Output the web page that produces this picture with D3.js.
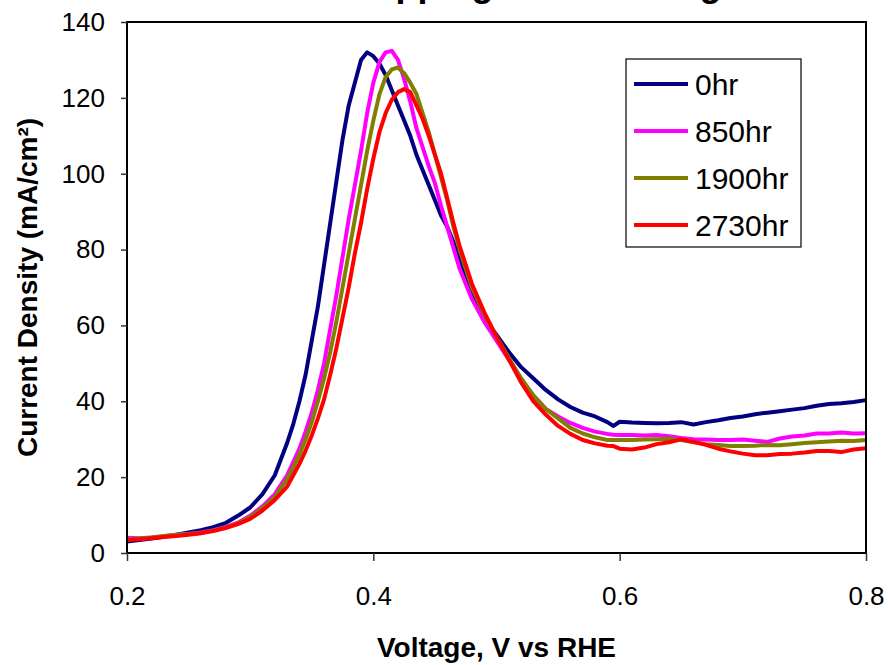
<!DOCTYPE html>
<html><head><meta charset="utf-8">
<script src="https://cdn.jsdelivr.net/npm/d3@7"></script>
<style>body{margin:0;background:#fff}svg{display:block}</style>
</head><body>
<svg id="c" width="888" height="665"></svg>
<script>
const voltage = [0.20,0.21,0.22,0.23,0.24,0.25,0.26,0.27,0.28,0.29,0.30,0.31,0.32,0.33,
0.335,0.34,0.345,0.35,0.355,0.36,0.365,0.37,0.375,0.38,0.385,0.39,0.395,0.40,0.405,0.41,0.415,0.42,0.425,0.43,0.435,0.44,0.445,0.45,0.455,0.46,0.465,0.47,
0.48,0.49,0.50,0.51,0.52,0.53,0.54,0.55,0.56,0.57,0.58,0.59,0.595,
0.60,0.61,0.62,0.63,0.64,0.65,0.66,0.67,0.68,0.69,0.70,0.71,0.72,0.73,0.74,0.75,0.76,0.77,0.78,0.79,0.80];

const hr0 = [3.0,3.4,3.8,4.3,4.8,5.4,6.0,6.8,7.9,9.8,12.0,15.5,20.5,29,
34,40,47,56,65,76,87,98,109,118,124,130,132,131,129,126,122,118,114,110,105,101,97,93,89,86,82,77.5,
69,62,57.5,53,49,46,43,40.5,38.5,37,36,34.5,33.5,
34.6,34.4,34.3,34.2,34.3,34.5,33.9,34.5,35,35.6,36,36.6,37,37.4,37.8,38.2,38.8,39.3,39.5,39.8,40.3];

const hr850 = [4.0,3.9,4.1,4.4,4.8,5.0,5.4,6.0,6.8,8.0,9.8,12.3,15.5,20.5,
24,27.5,32,37,43,50,59,68,78,88,97,106,116,124,129.5,132,132.4,130,125,119,112,107,102,97.5,91.5,86,80.5,75,
67,61,56,51,46,41.5,38,36,34.3,33,32,31.4,31.2,
31.1,31.1,31,31.1,30.8,30.3,30,29.9,29.8,29.8,29.9,29.6,29.3,30.2,30.7,31,31.5,31.5,31.8,31.5,31.6];

const hr1900 = [3.6,3.8,4.1,4.5,4.8,5.0,5.3,5.9,6.7,7.8,9.5,11.8,14.8,19.5,
22.5,26,30,34.5,40,46,53,61,70,79,88,97,106,114,121,125.5,127.5,128,126.5,124,121,116,111,105,99,93,86,80,
70,63,57,51.5,46,41.5,38,35.5,33,31.5,30.5,29.8,29.8,
29.8,29.8,29.9,30,30.1,29.8,29.2,28.7,28.5,28.2,28.2,28.3,28.5,28.4,28.7,29,29.2,29.4,29.6,29.5,29.8];

const hr2730 = [3.4,3.6,3.9,4.2,4.5,4.8,5.2,5.8,6.6,7.6,9.0,11.2,14.0,17.5,
20.5,23.5,27,31,35.5,40.5,47,54,62,70,79,87,96,104,111,116,119.5,121.5,122.3,121.5,118,114.5,110,105,100,93.5,87,81,
71,63.5,57,51,45,40,36.5,33.5,31.4,29.8,28.9,28.3,28.2,
27.5,27.3,27.8,28.7,29.2,30,29.3,28.5,27.5,26.8,26.2,25.8,25.8,26.1,26.2,26.5,26.9,26.9,26.6,27.3,27.6];

const seriesNames = ["0hr","850hr","1900hr","2730hr"];
const seriesColors = ["#000080","#ff00ff","#808000","#ff0000"];
const seriesValues = [hr0,hr850,hr1900,hr2730];
const xTicks = [0.2,0.4,0.6,0.8];
const yTicks = [0,20,40,60,80,100,120,140];
const titleText = "CO Stripping After Testing";
const xLabel = "Voltage, V vs RHE";
const yLabel = "Current Density (mA/cm²)";

const svg = d3.select("#c");
const L = 127, R = 866, T = 22, B = 553;
const x = d3.scaleLinear().domain([0.2,0.8]).range([L,R]);
const y = d3.scaleLinear().domain([0,140]).range([B,T]);
const font = "'Liberation Sans', Arial, sans-serif";

// title (mostly clipped at top)
svg.append("text").attr("x",(L+R)/2).attr("y",-4).attr("text-anchor","middle")
  .attr("font-family",font).attr("font-weight","bold").attr("font-size",36).text(titleText);

// lines
const line = d3.line().x((d,i)=>x(voltage[i])).y(d=>y(d));
seriesValues.forEach((vals,k)=>{
  svg.append("path").datum(vals).attr("d",line).attr("fill","none")
    .attr("stroke",seriesColors[k]).attr("stroke-width",4).attr("stroke-linejoin","round");
});

// frame
svg.append("rect").attr("x",L).attr("y",T).attr("width",R-L).attr("height",B-T)
  .attr("fill","none").attr("stroke","#000").attr("stroke-width",2);

// axes
const yAxis = d3.axisLeft(y).tickValues(yTicks).tickSize(6).tickPadding(16).tickFormat(d3.format("d"));
const gy = svg.append("g").attr("transform",`translate(${L},0)`).call(yAxis);
const xAxis = d3.axisBottom(x).tickValues(xTicks).tickSize(8).tickPadding(26).tickFormat(d3.format(".1f"));
const gx = svg.append("g").attr("transform",`translate(0,${B})`).call(xAxis);
[gx,gy].forEach(g=>{
  g.select(".domain").remove();
  g.selectAll(".tick line").attr("stroke","#333").attr("stroke-width",1.5);
  g.selectAll(".tick text").attr("font-family",font).attr("font-size",26).attr("fill","#000");
});

// axis labels
svg.append("text").attr("x",(L+R)/2).attr("y",657).attr("text-anchor","middle")
  .attr("font-family",font).attr("font-weight","bold").attr("font-size",28).text(xLabel);
svg.append("text").attr("transform",`translate(37,${(T+B)/2}) rotate(-90)`).attr("text-anchor","middle")
  .attr("font-family",font).attr("font-weight","bold").attr("font-size",28).text(yLabel);

// legend
const lg = svg.append("g");
lg.append("rect").attr("x",626).attr("y",59).attr("width",175).attr("height",188)
  .attr("fill","#fff").attr("stroke","#000").attr("stroke-width",1.2);
seriesNames.forEach((n,k)=>{
  const yy = 84 + k*47;
  lg.append("line").attr("x1",634).attr("x2",688).attr("y1",yy).attr("y2",yy)
    .attr("stroke",seriesColors[k]).attr("stroke-width",4);
  lg.append("text").attr("x",695).attr("y",yy).attr("dy","0.36em")
    .attr("font-family",font).attr("font-size",30).text(n);
});
</script>
</body></html>
